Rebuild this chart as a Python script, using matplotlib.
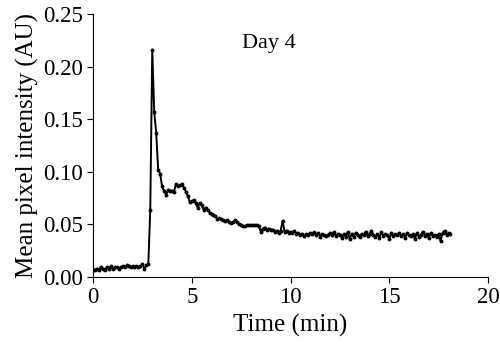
import numpy as np
import matplotlib.pyplot as plt

plt.rcParams['font.family'] = ['Liberation Serif', 'DejaVu Serif']

# sampling interval (min)
dt = 0.1

# Mean pixel intensity (AU), one value per sample
baseline = [0.007, 0.007, 0.008, 0.007, 0.009, 0.008, 0.007, 0.009, 0.008, 0.010,
            0.008, 0.009, 0.009, 0.008, 0.009, 0.010, 0.009, 0.011, 0.010, 0.009,
            0.010, 0.009, 0.010, 0.009, 0.010, 0.012, 0.008, 0.011, 0.012]
rise = [0.064, 0.216, 0.157, 0.137, 0.102, 0.098, 0.086, 0.082, 0.078, 0.083,
        0.082, 0.082, 0.081, 0.088, 0.086, 0.087, 0.088, 0.085, 0.081, 0.077,
        0.071, 0.072, 0.073, 0.070, 0.066, 0.070, 0.068, 0.064, 0.066, 0.064,
        0.061, 0.060, 0.059, 0.058, 0.055, 0.056, 0.055, 0.054, 0.053, 0.054,
        0.052, 0.051, 0.052, 0.054, 0.052, 0.050, 0.049, 0.048, 0.048, 0.049,
        0.049, 0.049, 0.049, 0.049, 0.049, 0.048, 0.043, 0.046, 0.047, 0.045,
        0.046, 0.045, 0.045, 0.043, 0.044, 0.042, 0.044, 0.053, 0.043, 0.044,
        0.042, 0.043]
tail = [0.042, 0.044, 0.041, 0.042, 0.040, 0.041, 0.039, 0.041, 0.040, 0.042,
        0.041, 0.043, 0.040, 0.042, 0.038, 0.041, 0.040, 0.039, 0.040, 0.042,
        0.040, 0.043, 0.039, 0.041, 0.040, 0.037, 0.041, 0.038, 0.043, 0.036,
        0.041, 0.038, 0.042, 0.040, 0.038, 0.041, 0.040, 0.043, 0.039, 0.041,
        0.044, 0.040, 0.038, 0.041, 0.037, 0.043, 0.039, 0.041, 0.040, 0.036,
        0.042, 0.039, 0.041, 0.040, 0.042, 0.039, 0.041, 0.037, 0.042, 0.040,
        0.039, 0.041, 0.036, 0.042, 0.038, 0.040, 0.043, 0.039, 0.041, 0.037,
        0.042, 0.039, 0.040, 0.038, 0.041, 0.034, 0.042, 0.044, 0.040, 0.042,
        0.041]

intensity = np.array(baseline + rise + tail)
t = np.arange(len(intensity)) * dt

fig = plt.figure(figsize=(5.0, 3.56), dpi=100)
ax = fig.add_axes([0.186, 0.222, 0.79, 0.739])

ax.plot(t, intensity, 'k-', linewidth=1.4, marker='o', markersize=1.8)

ax.set_xlim(0, 20)
ax.set_ylim(0, 0.25)
ax.set_xticks([0, 5, 10, 15, 20])
ax.set_yticks([0.0, 0.05, 0.10, 0.15, 0.20, 0.25])
ax.set_yticklabels(['0.00', '0.05', '0.10', '0.15', '0.20', '0.25'])
ax.spines['top'].set_visible(False)
ax.spines['right'].set_visible(False)
ax.tick_params(direction='out', length=4, labelsize=16.5)

ax.set_xlabel('Time (min)', fontsize=18, labelpad=4)
ax.set_ylabel('Mean pixel intensity (AU)', fontsize=18, labelpad=3)
ax.text(8.9, 0.222, 'Day 4', fontsize=16, ha='center', va='center')

fig.savefig('out.png', dpi=100)
